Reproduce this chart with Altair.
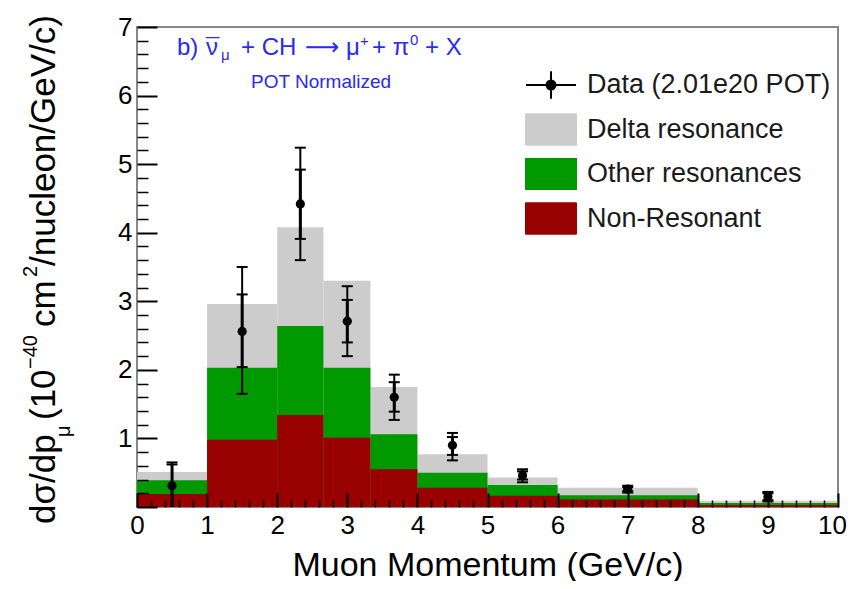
import altair as alt
import pandas as pd

# ---------------- data ----------------
bin_lo = [0, 1, 2, 2.66, 3.33, 4, 5, 6, 8]
bin_hi = [1, 2, 2.66, 3.33, 4, 5, 6, 8, 10]
# stacked tops of each component
delta_top = [0.51, 2.96, 4.08, 3.30, 1.75, 0.77, 0.43, 0.28, 0.09]
other_top = [0.39, 2.03, 2.64, 2.03, 1.06, 0.50, 0.32, 0.17, 0.06]
nonres_top = [0.19, 0.98, 1.34, 1.01, 0.55, 0.28, 0.165, 0.11, 0.03]

data_x = [0.5, 1.5, 2.33, 3.0, 3.67, 4.5, 5.5, 7.0, 9.0]
data_y = [0.31, 2.56, 4.42, 2.71, 1.60, 0.90, 0.46, 0.26, 0.15]
tot_lo = [0.0, 1.65, 3.60, 2.20, 1.27, 0.68, 0.36, 0.21, 0.08]
tot_hi = [0.65, 3.50, 5.24, 3.22, 1.93, 1.08, 0.55, 0.31, 0.22]
stat_lo = [0.0, 2.04, 3.91, 2.40, 1.39, 0.76, 0.40, 0.23, 0.10]
stat_hi = [0.62, 3.10, 4.92, 3.02, 1.82, 1.02, 0.52, 0.29, 0.20]

series = ["Data (2.01e20 POT)", "Delta resonance", "Other resonances", "Non-Resonant"]
series_colors = ["#000000", "#cccccc", "#009900", "#990000"]

x_major = list(range(0, 11))
y_major = list(range(0, 8))
y_labels = list(range(1, 8))
x_minor = [round(k * 0.2, 1) for k in range(51) if k % 5]
y_minor = [round(k * 0.2, 1) for k in range(36) if k % 5]

# ---------------- layout ----------------
W, H = 701, 480
FONT = "Liberation Sans"
BLUE = "#2a2af0"

bars = pd.DataFrame({"lo": bin_lo, "hi": bin_hi, "delta": delta_top,
                     "other": other_top, "nonres": nonres_top})
pts = pd.DataFrame({"x": data_x, "y": data_y, "tlo": tot_lo, "thi": tot_hi,
                    "slo": stat_lo, "shi": stat_hi})
leg = pd.DataFrame({"series": series, "px": [None] * 4, "py": [None] * 4})
one = pd.DataFrame({"k": [0]})

xs = alt.Scale(domain=[0, 10], nice=False, zero=False)
ys = alt.Scale(domain=[0, 7], nice=False, zero=False)

ax_x_main = alt.Axis(orient="bottom", values=x_major, tickSize=0, domain=False, grid=False,
                     labelFont=FONT, labelFontSize=26, labelColor="black", labelPadding=5,
                     labelFlush=False, labelOverlap=False,
                     labelOffset={"condition": {"test": "datum.value == 10", "value": -6}, "value": 0},
                     title="Muon Momentum (GeV/c)", titleFont=FONT, titleFontSize=34,
                     titleFontWeight="normal", titleColor="black",
                     titleBaseline="alphabetic", titleY=68)
ax_y_main = alt.Axis(orient="left", values=y_labels, tickSize=0, domain=False, grid=False,
                     labelFont=FONT, labelFontSize=26, labelColor="black", labelPadding=5,
                     labelFlush=False, labelOverlap=False, title=None)
ax_x_major = alt.Axis(orient="top", offset=-H, values=x_major, tickSize=14, tickWidth=2,
                      tickColor="black", labels=False, domain=False, grid=False, title=None, zindex=2)
ax_y_major = alt.Axis(orient="right", offset=-W, values=y_major, tickSize=20, tickWidth=2,
                      tickColor="black", labels=False, domain=False, grid=False, title=None, zindex=2)
ax_x_minor = alt.Axis(orient="top", offset=-H, values=x_minor, tickSize=7, tickWidth=1.5,
                      tickColor="black", labels=False, domain=False, grid=False, title=None, zindex=2)
ax_y_minor = alt.Axis(orient="right", offset=-W, values=y_minor, tickSize=11, tickWidth=1.5,
                      tickColor="black", labels=False, domain=False, grid=False, title=None, zindex=2)

gray = alt.Chart(bars).mark_rect(color="#cccccc").encode(
    x=alt.X("lo:Q", scale=xs, axis=ax_x_main), x2="hi:Q",
    y=alt.Y("delta:Q", scale=ys, axis=ax_y_main), y2=alt.datum(0))
green = alt.Chart(bars).mark_rect(color="#009900").encode(
    x=alt.X("lo:Q", scale=xs, axis=ax_x_major), x2="hi:Q",
    y=alt.Y("other:Q", scale=ys, axis=ax_y_major), y2=alt.datum(0))
red = alt.Chart(bars).mark_rect(color="#990000").encode(
    x=alt.X("lo:Q", scale=xs, axis=ax_x_minor), x2="hi:Q",
    y=alt.Y("nonres:Q", scale=ys, axis=ax_y_minor), y2=alt.datum(0))

outer = alt.Chart(pts).mark_rule(color="black", strokeWidth=2).encode(
    x=alt.X("x:Q", scale=xs, axis=None),
    y=alt.Y("tlo:Q", scale=ys, axis=None), y2="thi:Q")
inner = alt.Chart(pts).mark_rule(color="black", strokeWidth=3).encode(
    x=alt.X("x:Q", scale=xs, axis=None),
    y=alt.Y("slo:Q", scale=ys, axis=None), y2="shi:Q")
caps = alt.Chart(pts).transform_fold(["tlo", "thi", "slo", "shi"], as_=["kind", "v"]).transform_filter(
    "datum.v > 0").mark_tick(color="black", orient="horizontal", size=11, thickness=2, opacity=1).encode(
    x=alt.X("x:Q", scale=xs, axis=None),
    y=alt.Y("v:Q", scale=ys, axis=None))
dots = alt.Chart(pts).mark_circle(color="black", size=85, opacity=1).encode(
    x=alt.X("x:Q", scale=xs, axis=None),
    y=alt.Y("y:Q", scale=ys, axis=None))

DATA_SYM = "M-1,0H1M0,-0.55V0.55M0.18,0A0.18,0.18,0,1,1,-0.18,0A0.18,0.18,0,1,1,0.18,0Z"
BOX_SYM = "M-1,-0.66H1V0.66H-1Z"
legend = alt.Legend(title=None, orient="none", legendX=388, legendY=42, padding=0,
                    symbolSize=2500, symbolStrokeWidth=2, clipHeight=32, rowPadding=12.5,
                    labelOffset=10, labelFont=FONT, labelFontSize=27, labelColor="#1a1a1a",
                    labelLimit=500)
dom = alt.Scale(domain=series, range=series_colors)
leg_layer = alt.Chart(leg).mark_point(filled=True, opacity=1, invalid="filter").encode(
    x=alt.X("px:Q", scale=xs, axis=None),
    y=alt.Y("py:Q", scale=ys, axis=None),
    fill=alt.Fill("series:N", scale=dom, legend=legend),
    stroke=alt.Stroke("series:N", scale=dom, legend=legend),
    shape=alt.Shape("series:N", scale=alt.Scale(domain=series, range=[DATA_SYM, BOX_SYM, BOX_SYM, BOX_SYM]),
                    legend=legend))


def txt(s, x, y, size, color="black", angle=0, align="left", baseline="alphabetic", font=FONT):
    kw = dict(font=font, fontSize=size, color=color, align=align, baseline=baseline)
    if angle:
        kw["angle"] = angle
    return alt.Chart(one).mark_text(**kw).encode(
        x=alt.value(x), y=alt.value(y), text=alt.value(s))


annots = [
    # reaction label (top left, blue)
    txt("b)", 40, 28, 24, BLUE),
    txt("\u03bd", 69, 28, 24, BLUE),
    txt("\u00af", 69, 28, 24, BLUE),
    txt("\u03bc", 84, 33, 15, BLUE),
    txt("+ CH", 104, 28, 24, BLUE),
    txt("\u27f6", 168, 28, 24, BLUE, font="DejaVu Sans"),
    txt("\u03bc", 209, 28, 24, BLUE),
    txt("+", 223, 19, 15, BLUE),
    txt("+ \u03c0", 235, 28, 24, BLUE),
    txt("0", 273, 18, 15, BLUE),
    txt("+ X", 288, 28, 24, BLUE),
    txt("POT Normalized", 184, 61, 19, BLUE, align="center"),
    # y-axis title pieces (rotated)
    txt("d\u03c3/dp", -82, 497, 35, angle=270),
    txt("\u03bc", -67, 410, 20, angle=270),
    txt("(10", -82, 393, 35, angle=270),
    txt("\u221240", -100, 342, 20, angle=270),
    txt("cm", -82, 300, 35, angle=270),
    txt("2", -100, 250, 20, angle=270),
    txt("/nucleon/GeV/c)", -82, 239, 35, angle=270),
]

chart = alt.layer(gray, green, red, outer, inner, caps, dots, leg_layer, *annots).resolve_axis(
    x="independent", y="independent"
).properties(
    width=W, height=H,
    autosize=alt.AutoSizeParams(type="none"),
    padding={"left": 129, "top": 19, "right": 13, "bottom": 74},
    background="white",
).configure_view(stroke="#888888", strokeWidth=2)

chart.save("out.html", embed_options={"renderer": "svg", "actions": False})
